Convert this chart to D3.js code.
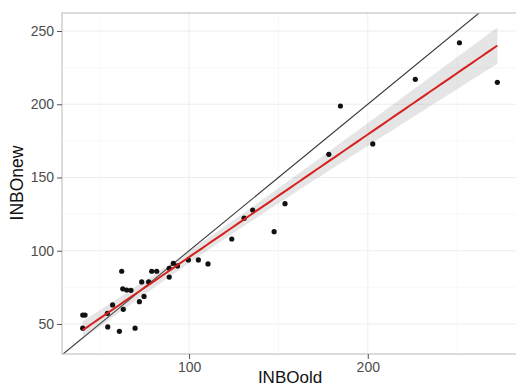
<!DOCTYPE html>
<html>
<head>
<meta charset="utf-8">
<script src="https://cdn.jsdelivr.net/npm/d3@7"></script>
<style>
  html, body { margin: 0; padding: 0; background: #fff; }
  svg { display: block; font-family: "Liberation Sans", Arial, Helvetica, sans-serif; }
</style>
</head>
<body>
<svg id="chart" width="516" height="387"></svg>
<script>
// ---- data ----
const inboOld = [40.5, 41.8, 40.5, 54.3, 57.2, 54.5, 61.0, 62.3, 62.9, 63.2,
                 65.1, 67.5, 69.8, 72.2, 74.8, 73.5, 77.4, 79.1, 81.9, 88.9,
                 88.9, 91.2, 93.5, 99.6, 105.2, 110.6, 123.9, 130.8, 135.6, 147.6,
                 153.7, 178.2, 184.7, 202.8, 226.6, 251.3, 272.5];
const inboNew = [56.1, 56.1, 47.1, 57.3, 63.0, 48.0, 45.0, 86.0, 74.0, 60.0,
                 73.2, 73.0, 47.1, 65.2, 68.8, 78.7, 78.7, 86.0, 86.0, 82.0,
                 88.0, 91.4, 89.6, 93.7, 93.7, 91.0, 108.0, 122.2, 127.8, 113.0,
                 132.1, 165.8, 198.8, 172.9, 217.0, 242.0, 215.0];
const xTicks = [100, 200];
const xMinor = [50, 150, 250];
const yTicks = [50, 100, 150, 200, 250];
const yMinor = [75, 125, 175, 225];
const xDomain = [28.9, 286.3];
const yDomain = [29.5, 262.3];
const xLabel = "INBOold";
const yLabel = "INBOnew";

// ---- layout ----
const svg = d3.select("#chart");
const L = 62, T = 13, R = 522, B = 354;
const x = d3.scaleLinear().domain(xDomain).range([L, R]);
const y = d3.scaleLinear().domain(yDomain).range([B, T]);

const pts = inboOld.map((v, i) => ({x: v, y: inboNew[i]}));

// ---- linear regression with 95% CI ----
const n = pts.length;
const mx = d3.mean(pts, d => d.x), my = d3.mean(pts, d => d.y);
const sxx = d3.sum(pts, d => (d.x - mx) ** 2);
const sxy = d3.sum(pts, d => (d.x - mx) * (d.y - my));
const slope = sxy / sxx, icpt = my - slope * mx;
const sse = d3.sum(pts, d => (d.y - icpt - slope * d.x) ** 2);
const s = Math.sqrt(sse / (n - 2));
const tcrit = 2.03;
const [xmin, xmax] = d3.extent(pts, d => d.x);
const fit = d3.range(0, 81).map(i => {
  const xv = xmin + (xmax - xmin) * i / 80;
  const yh = icpt + slope * xv;
  const se = s * Math.sqrt(1 / n + (xv - mx) ** 2 / sxx);
  return {x: xv, y: yh, lo: yh - tcrit * se, hi: yh + tcrit * se};
});

svg.append("clipPath").attr("id", "clip")
  .append("rect").attr("x", L).attr("y", T).attr("width", R - L).attr("height", B - T);

// grid
const g = svg.append("g");
g.selectAll(".xmin").data(xMinor).join("line")
  .attr("x1", d => x(d)).attr("x2", d => x(d)).attr("y1", T).attr("y2", B)
  .attr("stroke", "#f4f4f4").attr("stroke-width", 0.7);
g.selectAll(".ymin").data(yMinor).join("line")
  .attr("y1", d => y(d)).attr("y2", d => y(d)).attr("x1", L).attr("x2", R)
  .attr("stroke", "#f4f4f4").attr("stroke-width", 0.7);
g.selectAll(".xmaj").data(xTicks).join("line")
  .attr("x1", d => x(d)).attr("x2", d => x(d)).attr("y1", T).attr("y2", B)
  .attr("stroke", "#ededed").attr("stroke-width", 1);
g.selectAll(".ymaj").data(yTicks).join("line")
  .attr("y1", d => y(d)).attr("y2", d => y(d)).attr("x1", L).attr("x2", R)
  .attr("stroke", "#ededed").attr("stroke-width", 1);

const plot = svg.append("g").attr("clip-path", "url(#clip)");

// identity line
plot.append("line")
  .attr("x1", x(xDomain[0] - 10)).attr("y1", y(xDomain[0] - 10))
  .attr("x2", x(300)).attr("y2", y(300))
  .attr("stroke", "#333").attr("stroke-width", 1.1);

// CI ribbon
plot.append("path").datum(fit)
  .attr("d", d3.area().x(d => x(d.x)).y0(d => y(d.lo)).y1(d => y(d.hi)))
  .attr("fill", "#999").attr("fill-opacity", 0.25);

// points
plot.selectAll("circle").data(pts).join("circle")
  .attr("cx", d => x(d.x)).attr("cy", d => y(d.y)).attr("r", 2.6)
  .attr("fill", "#111");

// fit line
plot.append("path").datum(fit)
  .attr("d", d3.line().x(d => x(d.x)).y(d => y(d.y)))
  .attr("fill", "none").attr("stroke", "#d62020").attr("stroke-width", 2);

// panel border
svg.append("rect").attr("x", L).attr("y", T).attr("width", R - L).attr("height", B - T)
  .attr("fill", "none").attr("stroke", "#c4c4c4").attr("stroke-width", 1.2);

// axes
const xAxis = svg.append("g").attr("transform", `translate(0,${B})`)
  .call(d3.axisBottom(x).tickValues(xTicks).tickSize(5).tickPadding(3).tickFormat(d3.format("d")));
const yAxis = svg.append("g").attr("transform", `translate(${L},0)`)
  .call(d3.axisLeft(y).tickValues(yTicks).tickSize(5).tickPadding(3).tickFormat(d3.format("d")));
[xAxis, yAxis].forEach(a => {
  a.select(".domain").remove();
  a.selectAll(".tick line").attr("stroke", "#555");
  a.selectAll(".tick text").attr("fill", "#4d4d4d").style("font-size", "14px");
});

// axis titles
svg.append("text").attr("x", 290).attr("y", 383).attr("text-anchor", "middle")
  .style("font-size", "17px").attr("fill", "#111").text(xLabel);
svg.append("text").attr("transform", "translate(23,183) rotate(-90)")
  .attr("text-anchor", "middle").style("font-size", "17.5px").attr("fill", "#111").text(yLabel);
</script>
</body>
</html>
